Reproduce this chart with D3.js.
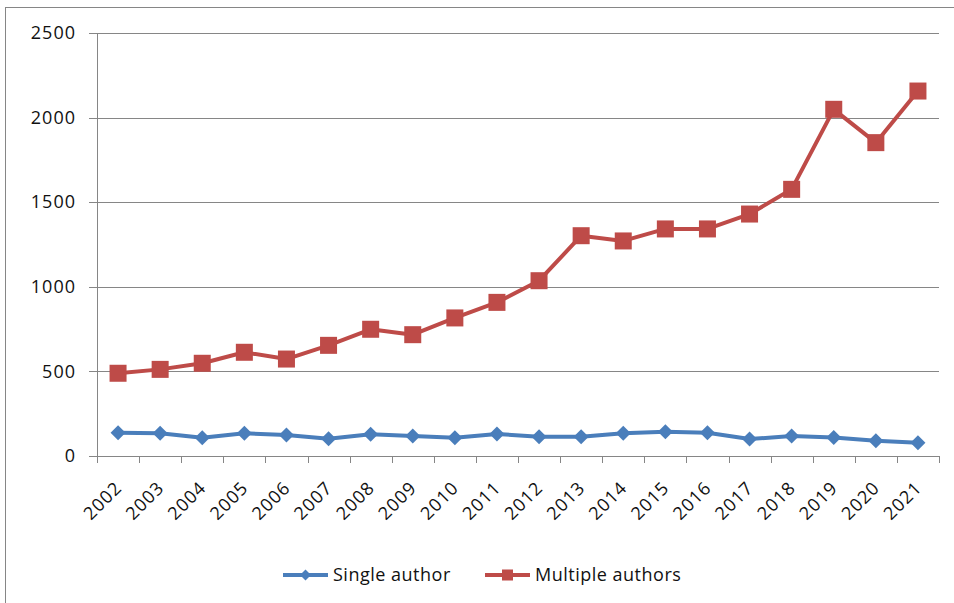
<!DOCTYPE html>
<html>
<head>
<meta charset="utf-8">
<script src="https://cdn.jsdelivr.net/npm/d3@7"></script>
<style>
  html, body { margin: 0; padding: 0; background: #fff; }
  svg { display: block; font-family: "Open Sans", sans-serif; }
</style>
</head>
<body>
<svg id="chart" width="954" height="603"></svg>
<script>
// Publications per year by authorship type
const years = ["2002","2003","2004","2005","2006","2007","2008","2009","2010","2011",
               "2012","2013","2014","2015","2016","2017","2018","2019","2020","2021"];
const singleAuthor = [138,134,108,134,124,102,128,118,108,130,
                      114,114,134,144,138,100,118,110,90,79];
const multipleAuthors = [489,512,548,613,573,654,749,717,816,908,
                         1036,1302,1271,1342,1342,1430,1576,2049,1852,2157];
const yTicks = [0,500,1000,1500,2000,2500];
const seriesNames = ["Single author","Multiple authors"];

const svg = d3.select("#chart");
const plot = { left: 97, right: 939, top: 33, bottom: 456 };
const axisColor = "#868686";
const blue = "#4A7EBB", red = "#BE4B48";

// outer chart frame
svg.append("rect")
  .attr("x", 5.5).attr("y", 7.5)
  .attr("width", 980).attr("height", 640)
  .attr("fill", "#fff").attr("stroke", axisColor).attr("stroke-width", 1);

const x = d3.scaleBand().domain(years).range([plot.left, plot.right]);
const xEdge = d3.scaleLinear().domain([0, years.length]).range([plot.left, plot.right]);
const y = d3.scaleLinear().domain([0, 2500]).range([plot.bottom, plot.top]);
const cx = d => x(d) + x.bandwidth() / 2;

// horizontal gridlines
svg.append("g")
  .attr("transform", `translate(${plot.left},0)`)
  .call(d3.axisLeft(y).tickValues(yTicks.slice(1)).tickSize(-(plot.right - plot.left)).tickFormat(""))
  .call(g => g.select(".domain").remove())
  .call(g => g.selectAll("line").attr("stroke", axisColor).attr("shape-rendering", "crispEdges"));

// y axis
const yAxis = svg.append("g")
  .attr("transform", `translate(${plot.left},0)`)
  .call(d3.axisLeft(y).tickValues(yTicks).tickFormat(d3.format("d"))
    .tickSize(8).tickPadding(13).tickSizeOuter(0));
yAxis.select(".domain").attr("stroke", axisColor).attr("shape-rendering", "crispEdges");
yAxis.selectAll(".tick line").attr("stroke", axisColor).attr("shape-rendering", "crispEdges");
yAxis.selectAll(".tick text")
  .attr("fill", "#111").style("font-size", "18px").style("letter-spacing", "1px")
  .style("font-family", "'Open Sans', sans-serif");

// x axis: tick marks at category boundaries
const xAxis = svg.append("g")
  .attr("transform", `translate(0,${plot.bottom})`)
  .call(d3.axisBottom(xEdge).tickValues(d3.range(years.length + 1)).tickSize(7).tickFormat("").tickSizeOuter(0));
xAxis.select(".domain").attr("stroke", axisColor).attr("shape-rendering", "crispEdges");
xAxis.selectAll(".tick line").attr("stroke", axisColor).attr("shape-rendering", "crispEdges");

// rotated year labels
svg.append("g").selectAll("text")
  .data(years).join("text")
  .attr("transform", d => `translate(${cx(d) + 5},${489}) rotate(-45)`)
  .attr("text-anchor", "end")
  .attr("fill", "#111")
  .style("font-size", "18px").style("letter-spacing", "1px")
  .text(d => d);

const line = d3.line().x((d, i) => cx(years[i])).y(d => y(d));

// Multiple authors series
svg.append("path").datum(multipleAuthors)
  .attr("d", line).attr("fill", "none").attr("stroke", red)
  .attr("stroke-width", 4).attr("stroke-linejoin", "round");
svg.append("g").selectAll("rect")
  .data(multipleAuthors).join("rect")
  .attr("x", (d, i) => cx(years[i]) - 8.5).attr("y", d => y(d) - 8.5)
  .attr("width", 17).attr("height", 17).attr("fill", red);

// Single author series
svg.append("path").datum(singleAuthor)
  .attr("d", line).attr("fill", "none").attr("stroke", blue)
  .attr("stroke-width", 4).attr("stroke-linejoin", "round");
const diamond = r => `M0,${-r}L${r},0L0,${r}L${-r},0Z`;
svg.append("g").selectAll("path")
  .data(singleAuthor).join("path")
  .attr("transform", (d, i) => `translate(${cx(years[i])},${y(d)})`)
  .attr("d", diamond(7.5)).attr("fill", blue);

// legend
const legend = svg.append("g").attr("transform", "translate(0,575)");
const items = [
  { name: seriesNames[0], color: blue, x0: 283, marker: "diamond" },
  { name: seriesNames[1], color: red, x0: 485, marker: "square" }
];
items.forEach(it => {
  const g = legend.append("g").attr("transform", `translate(${it.x0},0)`);
  g.append("line").attr("x1", 0).attr("x2", 45).attr("y1", 0).attr("y2", 0)
    .attr("stroke", it.color).attr("stroke-width", 4);
  if (it.marker === "diamond") {
    g.append("path").attr("transform", "translate(22.5,0)").attr("d", diamond(5.5)).attr("fill", it.color);
  } else {
    g.append("rect").attr("x", 17).attr("y", -5.5).attr("width", 11).attr("height", 11).attr("fill", it.color);
  }
  g.append("text").attr("x", 50).attr("y", 0).attr("dy", "0.35em")
    .attr("fill", "#111").style("font-size", "18px").style("letter-spacing", "0.5px")
    .text(it.name);
});
</script>
</body>
</html>
